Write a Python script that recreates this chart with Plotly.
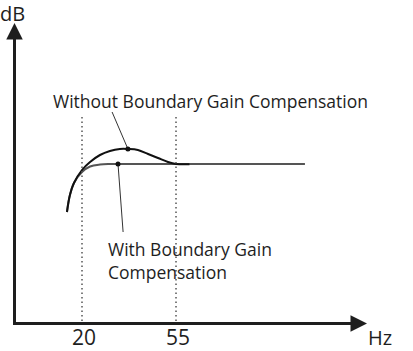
import plotly.graph_objects as go

# ---- data (x in Hz, y in dB, schematic) ----
tick_vals = [20, 55]
tick_text = ["20", "55"]

without_hz = [14.4, 15.5, 17.0, 20.0, 23.0, 26.7, 30.4, 34.1, 37.1, 40.8, 44.6, 48.3, 52.0, 55.0, 60.0]
without_db = [-9.6, -6.2, -3.8, -1.2, 0.4, 1.8, 2.6, 3.0, 3.0, 2.8, 2.0, 1.2, 0.4, 0.0, -0.05]

with_hz = [14.4, 15.5, 17.0, 20.0, 23.0, 26.7, 30.4, 40.0, 60.0, 80.0, 103.0]
with_db = [-9.6, -6.2, -3.8, -1.6, -0.5, -0.1, 0.0, 0.0, 0.0, 0.0, 0.0]

marker_hz = [37.1, 33.4]
marker_db = [3.0, 0.0]

leader_without_hz = [31.2, 37.1]
leader_without_db = [10.4, 3.0]
leader_with_hz = [33.4, 35.3]
leader_with_db = [0.0, -13.6]

label_without = "Without Boundary Gain Compensation"
label_with = "With Boundary Gain<br>Compensation"

# ---- frame (axis extents) ----
X_RANGE = [-10.53, 143.23]
Y_RANGE = [-37.4, 32.8]
corner_x, corner_y = -5.13, -31.9
x_tip, y_tip = 126.1, 28.2
dot_top = 9.4

INK = "#1e1e1e"
FONT = "Open Sans"

fig = go.Figure()

# dotted verticals
for v in tick_vals:
    fig.add_shape(type="line", x0=v, x1=v, y0=dot_top, y1=corner_y,
                  line=dict(color="#555555", width=1.5, dash="1.5px,3px"))

# leader lines
fig.add_trace(go.Scatter(x=leader_without_hz, y=leader_without_db, mode="lines",
                         line=dict(color="#333333", width=1), hoverinfo="skip", showlegend=False))
fig.add_trace(go.Scatter(x=leader_with_hz, y=leader_with_db, mode="lines",
                         line=dict(color="#333333", width=1), hoverinfo="skip", showlegend=False))

# curves
fig.add_trace(go.Scatter(x=with_hz, y=with_db, mode="lines", line=dict(color="#555555", width=2, shape="spline"),
                         hoverinfo="skip", showlegend=False))
fig.add_trace(go.Scatter(x=without_hz, y=without_db, mode="lines", line=dict(color="#111111", width=2, shape="spline"),
                         hoverinfo="skip", showlegend=False))
fig.add_trace(go.Scatter(x=marker_hz, y=marker_db, mode="markers", marker=dict(color="#111111", size=5),
                         hoverinfo="skip", showlegend=False))

# axes as path
fig.add_shape(type="path",
              path=f"M {corner_x},{y_tip - 3} L {corner_x},{corner_y} L {x_tip - 6},{corner_y}",
              line=dict(color=INK, width=3))
# arrowheads
fig.add_annotation(x=corner_x, y=y_tip, ax=corner_x, ay=y_tip - 10, axref="x", ayref="y",
                   text="", showarrow=True, arrowhead=2, arrowsize=1.1, arrowwidth=3, arrowcolor=INK, standoff=0)
fig.add_annotation(x=x_tip, y=corner_y, ax=x_tip - 20, ay=corner_y, axref="x", ayref="y",
                   text="", showarrow=True, arrowhead=2, arrowsize=1.1, arrowwidth=3, arrowcolor=INK, standoff=0)

# tick labels
for v, t in zip(tick_vals, tick_text):
    fig.add_annotation(x=v + 0.9, y=-34.5, text=t, showarrow=False, xanchor="center", yanchor="middle",
                       borderpad=0, borderwidth=0, font=dict(family=FONT, size=21, color=INK))

fig.add_annotation(x=-5.7, y=30.2, text="dB", showarrow=False, xanchor="center", yanchor="middle",
                   borderpad=0, borderwidth=0, font=dict(family=FONT, size=20, color=INK))
fig.add_annotation(x=130.9, y=-34.6, text="Hz", showarrow=False, xanchor="center", yanchor="middle",
                   borderpad=0, borderwidth=0, font=dict(family=FONT, size=20, color=INK))

fig.add_annotation(x=68.0, y=12.6, text=label_without, showarrow=False, xanchor="center", yanchor="middle",
                   font=dict(family=FONT, size=17.5, color=INK))
fig.add_annotation(x=28.9, y=-19.3, text=label_with, showarrow=False, xanchor="left", yanchor="middle",
                   align="left", font=dict(family=FONT, size=17.5, color=INK))

fig.update_layout(width=413, height=351, margin=dict(l=0, r=0, t=0, b=0),
                  paper_bgcolor="white", plot_bgcolor="white",
                  xaxis=dict(range=X_RANGE, visible=False, fixedrange=True),
                  yaxis=dict(range=Y_RANGE, visible=False, fixedrange=True),
                  showlegend=False)

fig.write_html("out.html")
